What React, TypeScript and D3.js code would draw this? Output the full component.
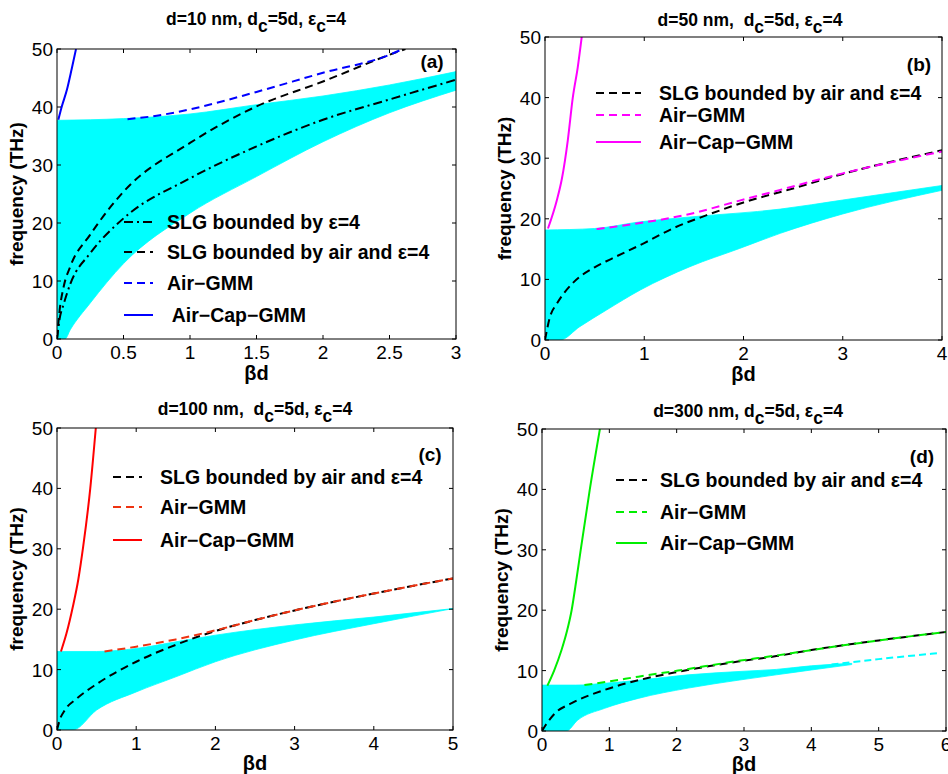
import * as d3 from 'd3';

// ---- panel (a): d = 10 nm ----
const aBandUpperX = [0, 0.25, 0.5, 1, 1.5, 2, 2.5, 3];
const aBandUpperY = [37.7, 37.8, 38.0, 38.8, 40.4, 41.9, 43.8, 46.1];
const aBandLowerX = [0, 0.06, 0.1, 0.25, 0.5, 1, 1.5, 2, 2.5, 3];
const aBandLowerY = [0, 0, 1.6, 6.2, 13, 21.7, 28, 34, 39, 42.9];
const aEps4X = [0, 0.02, 0.05, 0.1, 0.25, 0.5, 1, 1.5, 2, 2.5, 3];
const aEps4Y = [0, 3.5, 6, 9.5, 14.8, 20.8, 27.7, 33.2, 37.8, 41.3, 44.7];
const aSlgX = [0, 0.02, 0.05, 0.1, 0.25, 0.5, 1, 1.5, 2, 2.5, 2.62];
const aSlgY = [0, 5, 9, 12.5, 18, 25.4, 33.8, 40.1, 44.4, 49.0, 50];
const aGmmX = [0.53, 0.75, 1, 1.5, 2, 2.5, 2.6];
const aGmmY = [37.9, 38.5, 39.6, 42.6, 45.9, 49.0, 50];
const aCapX = [0.01, 0.035, 0.075, 0.11, 0.143];
const aCapY = [37.8, 40, 43, 46.5, 50];

// ---- panel (b): d = 50 nm ----
const bBandUpperX = [0, 0.5, 0.96, 1.46, 2.37, 3, 4];
const bBandUpperY = [18.15, 18.4, 19.5, 20.3, 21.6, 23.1, 25.5];
const bBandLowerX = [0, 0.15, 0.35, 0.62, 0.96, 1.46, 1.96, 2.37, 3, 4];
const bBandLowerY = [0, 0, 2.2, 4.95, 8.25, 12.1, 15.1, 17.6, 20.8, 24.7];
const bSlgX = [0, 0.05, 0.12, 0.28, 0.5, 0.67, 1, 1.3, 1.63, 2, 2.5, 3, 4];
const bSlgY = [0, 3.8, 6, 9.4, 12.0, 13.4, 16.0, 18.5, 20.6, 22.7, 25.0, 27.4, 31.3];
const bGmmX = [0.52, 0.96, 1.46, 1.96, 2.33, 3, 4];
const bGmmY = [18.3, 19.3, 20.8, 23.0, 24.6, 27.5, 31.1];
const bCapX = [0.03, 0.12, 0.17, 0.23, 0.28, 0.33, 0.37];
const bCapY = [18.4, 23.1, 26.6, 33, 40, 45, 50];

// ---- panel (c): d = 100 nm ----
const cBandUpperX = [0, 0.5, 1, 1.5, 2, 3, 4, 5];
const cBandUpperY = [13, 13, 13.5, 14.6, 15.7, 17.4, 18.7, 20.1];
const cBandLowerX = [0, 0.2, 0.5, 1, 1.5, 2, 3, 4, 5];
const cBandLowerY = [0, 0, 3.3, 6.3, 8.8, 11.3, 14.9, 17.6, 20.1];
const cSlgX = [0, 0.03, 0.1, 0.25, 0.5, 1, 1.5, 2, 2.5, 3, 4, 5];
const cSlgY = [0, 1.5, 3.3, 5.2, 7.6, 11.3, 14.1, 16.4, 18.2, 19.8, 22.6, 25.1];
const cGmmX = [0.6, 1, 1.5, 2, 2.5, 3, 4, 5];
const cGmmY = [13, 13.8, 15, 16.5, 18.2, 19.8, 22.6, 25.1];
const cCapX = [0.05, 0.12, 0.2, 0.27, 0.33, 0.42, 0.49];
const cCapY = [13, 16, 20.4, 25, 30.3, 40, 50];

// ---- panel (d): d = 300 nm ----
const dBandUpperX = [0, 0.5, 0.93, 1.43, 2.17, 3, 3.48, 4, 4.6];
const dBandUpperY = [7.6, 7.6, 7.9, 8.4, 9.3, 9.9, 10.2, 10.8, 11.2];
const dBandLowerX = [0, 0.36, 0.53, 0.93, 1.43, 2.17, 2.91, 3.48, 4, 4.6];
const dBandLowerY = [0, 0, 1.8, 3.75, 5.4, 7.1, 8.4, 9.3, 10.1, 11.0];
const dTailX = [4.3, 5, 5.9];
const dTailY = [11.0, 11.9, 12.9];
const dSlgX = [0, 0.05, 0.19, 0.44, 0.93, 1.43, 2.02, 2.91, 3.48, 4, 5, 6];
const dSlgY = [0, 0.9, 2.9, 4.6, 6.8, 8.4, 9.8, 11.5, 12.4, 13.4, 15, 16.4];
const dGmmX = [0.63, 1, 1.43, 2.02, 2.91, 3.48, 4, 5, 6];
const dGmmY = [7.6, 8.2, 9.0, 10.0, 11.6, 12.5, 13.4, 15, 16.4];
const dCapX = [0.08, 0.18, 0.29, 0.37, 0.44, 0.51, 0.575, 0.71, 0.86];
const dCapY = [7.5, 10, 13.4, 16.5, 20, 25, 30, 40, 50];

const yTicks = [0, 10, 20, 30, 40, 50];
const LEG_EPS4 = 'SLG bounded by ε=4';
const LEG_SLG = 'SLG bounded by air and ε=4';
const LEG_GMM = 'Air−GMM';
const LEG_CAP = 'Air−Cap−GMM';

const FONT = '"Liberation Sans", Arial, Helvetica, sans-serif';
const CYAN = '#00ffff';
const DASH = '8,5';
const DASHDOT = '9,4,2,4';

const zip = (xs, ys) => xs.map((x, i) => [x, ys[i]]);

const panels = [
  {
    id: 'a', box: [57, 456, 49, 339], xMax: 3, xTicks: [0, 0.5, 1, 1.5, 2, 2.5, 3], labelDy: 41,
    title: ['d=10 nm, d', '=5d, ε', '=4'], titleX: 256, titleY: 25, tag: '(a)', tagX: 432, tagY: 68,
    upper: zip(aBandUpperX, aBandUpperY), lower: zip(aBandLowerX, aBandLowerY),
    lines: [
      { pts: zip(aEps4X, aEps4Y), color: '#000', dash: DASHDOT },
      { pts: zip(aSlgX, aSlgY), color: '#000', dash: DASH },
      { pts: zip(aGmmX, aGmmY), color: '#0000ff', dash: DASH },
      { pts: zip(aCapX, aCapY), color: '#0000ff', dash: null },
    ],
    legend: { x0: 124, x1: 153, tx: 167, ys: [222, 252, 283, 315],
      items: [[LEG_EPS4, '#000', DASHDOT], [LEG_SLG, '#000', DASH], [LEG_GMM, '#0000ff', DASH], [' ' + LEG_CAP, '#0000ff', null]] },
  },
  {
    id: 'b', box: [545, 942, 37, 340], xMax: 4, xTicks: [0, 1, 2, 3, 4], labelDy: 41,
    title: ['d=50 nm,  d', '=5d, ε', '=4'], titleX: 750, titleY: 26, tag: '(b)', tagX: 919, tagY: 71,
    upper: zip(bBandUpperX, bBandUpperY), lower: zip(bBandLowerX, bBandLowerY),
    lines: [
      { pts: zip(bSlgX, bSlgY), color: '#000', dash: DASH },
      { pts: zip(bGmmX, bGmmY), color: '#ff00ff', dash: DASH },
      { pts: zip(bCapX, bCapY), color: '#ff00ff', dash: null },
    ],
    legend: { x0: 596, x1: 641, tx: 659, ys: [93, 115, 142],
      items: [[LEG_SLG, '#000', DASH], [LEG_GMM, '#ff00ff', DASH], [LEG_CAP, '#ff00ff', null]] },
  },
  {
    id: 'c', box: [57, 453, 428, 730], xMax: 5, xTicks: [0, 1, 2, 3, 4, 5], labelDy: 40,
    title: ['d=100 nm,  d', '=5d, ε', '=4'], titleX: 255, titleY: 415, tag: '(c)', tagX: 430, tagY: 461,
    upper: zip(cBandUpperX, cBandUpperY), lower: zip(cBandLowerX, cBandLowerY),
    lines: [
      { pts: zip(cSlgX, cSlgY), color: '#000', dash: DASH },
      { pts: zip(cGmmX, cGmmY), color: '#ee3311', dash: DASH },
      { pts: zip(cCapX, cCapY), color: '#ff0000', dash: null },
    ],
    legend: { x0: 113, x1: 142, tx: 160, ys: [477, 507, 540],
      items: [[LEG_SLG, '#000', DASH], [LEG_GMM, '#ee3311', DASH], [LEG_CAP, '#ff0000', null]] },
  },
  {
    id: 'd', box: [542, 946, 429, 731], xMax: 6, xTicks: [0, 1, 2, 3, 4, 5, 6], labelDy: 40,
    title: ['d=300 nm, d', '=5d, ε', '=4'], titleX: 748, titleY: 417, tag: '(d)', tagX: 922, tagY: 463,
    upper: zip(dBandUpperX, dBandUpperY), lower: zip(dBandLowerX, dBandLowerY),
    tail: zip(dTailX, dTailY),
    lines: [
      { pts: zip(dSlgX, dSlgY), color: '#000', dash: DASH },
      { pts: zip(dGmmX, dGmmY), color: '#00ee00', dash: DASH },
      { pts: zip(dCapX, dCapY), color: '#00ee00', dash: null },
    ],
    legend: { x0: 616, x1: 647, tx: 660, ys: [480, 512, 543],
      items: [[LEG_SLG, '#000', DASH], [LEG_GMM, '#00ee00', DASH], [LEG_CAP, '#00ee00', null]] },
  },
];

function Panel({ p }) {
  const [l, r, t, b] = p.box;
  const x = d3.scaleLinear().domain([0, p.xMax]).range([l, r]);
  const y = d3.scaleLinear().domain([0, 50]).range([b, t]);
  const line = d3.line().x(d => x(d[0])).y(d => y(d[1])).curve(d3.curveMonotoneX);
  // band: upper edge left to right, lower edge back right to left
  const upperPath = line(p.upper);
  const lowerPath = line([...p.lower].reverse()).replace(/^M/, 'L');
  const bandPath = upperPath + lowerPath + 'Z';
  const clipId = `clip-${p.id}`;
  const tick = 4;
  return (
    <g>
      <defs>
        <clipPath id={clipId}>
          <rect x={l} y={t} width={r - l} height={b - t} />
        </clipPath>
      </defs>
      <g clipPath={`url(#${clipId})`}>
        <path d={bandPath} fill={CYAN} stroke={CYAN} strokeWidth={0.8} />
        {p.tail && (
          <path d={line(p.tail)} fill="none" stroke={CYAN} strokeWidth={2} strokeDasharray="7,4" />
        )}
        {p.lines.map((ln, i) => (
          <path key={i} d={line(ln.pts)} fill="none" stroke={ln.color} strokeWidth={2}
            strokeDasharray={ln.dash || undefined} />
        ))}
      </g>
      <rect x={l} y={t} width={r - l} height={b - t} fill="none" stroke="#000" strokeWidth={1} />
      {p.xTicks.map(v => (
        <g key={`x${v}`}>
          <line x1={x(v)} x2={x(v)} y1={b} y2={b - tick} stroke="#000" />
          <line x1={x(v)} x2={x(v)} y1={t} y2={t + tick} stroke="#000" />
          <text x={x(v)} y={b + 20} textAnchor="middle" fontSize={19} fontFamily={FONT}>{String(v)}</text>
        </g>
      ))}
      {yTicks.map(v => (
        <g key={`y${v}`}>
          <line x1={l} x2={l + tick} y1={y(v)} y2={y(v)} stroke="#000" />
          <line x1={r} x2={r - tick} y1={y(v)} y2={y(v)} stroke="#000" />
          <text x={l - 4} y={y(v) + 7} textAnchor="end" fontSize={19} fontFamily={FONT}>{String(v)}</text>
        </g>
      ))}
      <text x={(l + r) / 2} y={b + p.labelDy} textAnchor="middle" fontSize={20} fontWeight="bold" fontFamily={FONT}>βd</text>
      <text transform={`translate(${l - 34},${(t + b) / 2}) rotate(-90)`} textAnchor="middle" fontSize={19}
        fontWeight="bold" fontFamily={FONT}>frequency (THz)</text>
      <text x={p.titleX} y={p.titleY} textAnchor="middle" fontSize={17.5} fontWeight="bold" fontFamily={FONT}
        style={{ whiteSpace: 'pre' }}>
        {p.title[0]}<tspan dy={7}>c</tspan><tspan dy={-7}>{p.title[1]}</tspan><tspan dy={7}>c</tspan><tspan dy={-7}>{p.title[2]}</tspan>
      </text>
      <text x={p.tagX} y={p.tagY} textAnchor="middle" fontSize={19} fontWeight="bold" fontFamily={FONT}>{p.tag}</text>
      {p.legend.items.map(([label, color, dash], i) => (
        <g key={`lg${i}`}>
          <line x1={p.legend.x0} x2={p.legend.x1} y1={p.legend.ys[i]} y2={p.legend.ys[i]} stroke={color}
            strokeWidth={2} strokeDasharray={dash || undefined} />
          <text x={p.legend.tx} y={p.legend.ys[i] + 7} fontSize={19.5} fontWeight="bold" fontFamily={FONT}
            style={{ whiteSpace: 'pre' }}>{label}</text>
        </g>
      ))}
    </g>
  );
}

export default function App() {
  return (
    <svg width={948} height={774} viewBox="0 0 948 774"
      style={{ position: 'absolute', left: 0, top: 0, background: '#fff', overflow: 'visible' }}>
      <rect width={948} height={774} fill="#fff" />
      {panels.map(p => <Panel key={p.id} p={p} />)}
    </svg>
  );
}
